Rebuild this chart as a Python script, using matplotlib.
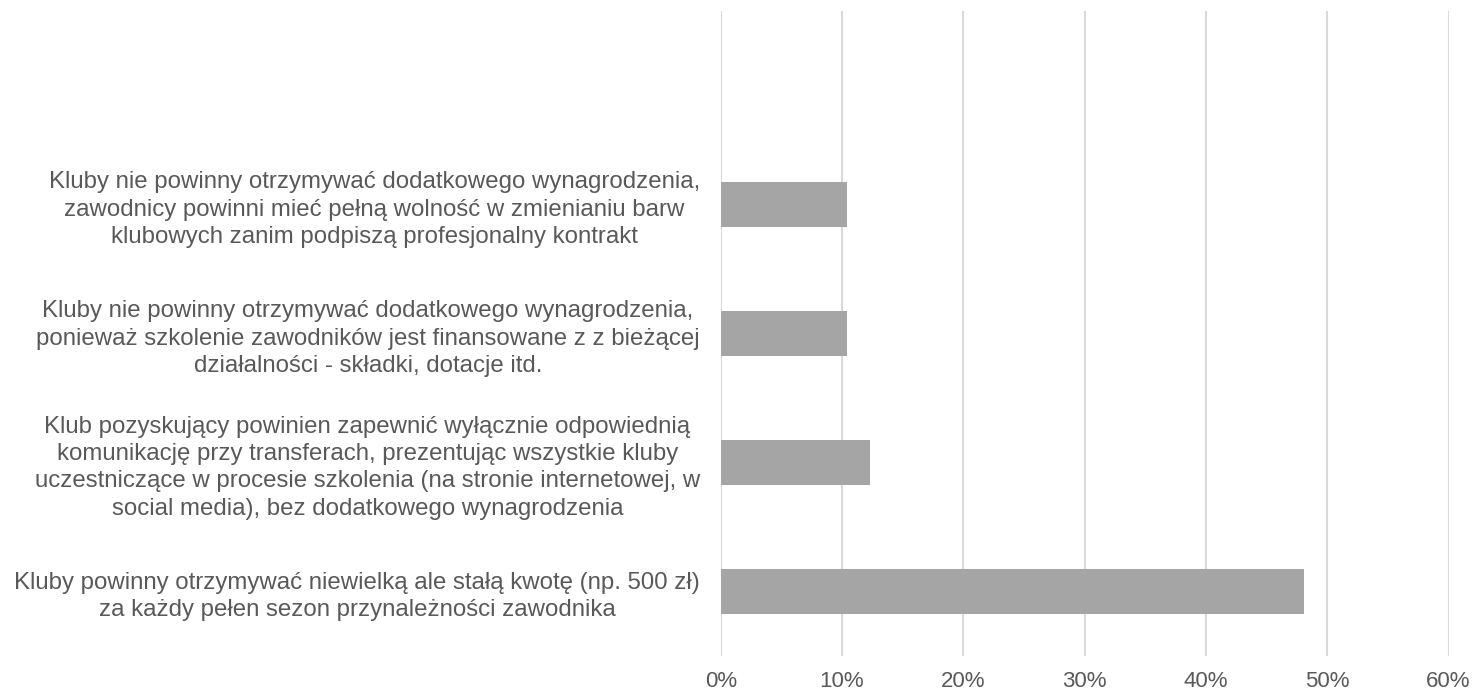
import matplotlib
matplotlib.use("Agg")
import matplotlib.pyplot as plt
from matplotlib.ticker import PercentFormatter

plt.rcParams["font.family"] = ["Liberation Sans", "DejaVu Sans"]

# categories from top to bottom (top slot is empty in the source chart)
labels = [
    "",
    "Kluby nie powinny otrzymywać dodatkowego wynagrodzenia,\n"
    "zawodnicy powinni mieć pełną wolność w zmienianiu barw\n"
    "klubowych zanim podpiszą profesjonalny kontrakt",
    "Kluby nie powinny otrzymywać dodatkowego wynagrodzenia,\n"
    "ponieważ szkolenie zawodników jest finansowane z z bieżącej\n"
    "działalności - składki, dotacje itd.",
    "Klub pozyskujący powinien zapewnić wyłącznie odpowiednią\n"
    "komunikację przy transferach, prezentując wszystkie kluby\n"
    "uczestniczące w procesie szkolenia (na stronie internetowej, w\n"
    "social media), bez dodatkowego wynagrodzenia",
    "Kluby powinny otrzymywać niewielką ale stałą kwotę (np. 500 zł)\n"
    "za każdy pełen sezon przynależności zawodnika",
]
values = [0.0, 10.4, 10.4, 12.3, 48.1]
xticks = [0, 10, 20, 30, 40, 50, 60]

fig = plt.figure(figsize=(14.73, 6.93), dpi=100)
ax = fig.add_axes([0.4893, 0.0534, 0.4941, 0.9307])

pos = list(range(len(labels)))[::-1]
ax.barh(pos, values, height=0.35, color="#a5a5a5", zorder=3)

ax.set_xlim(0, 60)
ax.set_ylim(-0.5, len(labels) - 0.5)
ax.set_xticks(xticks)
ax.xaxis.set_major_formatter(PercentFormatter(decimals=0))
ax.set_yticks(pos)
ax.set_yticklabels(labels, fontsize=17.3, color="#595959",
                   multialignment="center", linespacing=1.31)
ax.tick_params(axis="y", length=0, pad=15)
ax.tick_params(axis="x", length=0, pad=11, labelsize=16, labelcolor="#595959")

ax.grid(axis="x", color="#d9d9d9", linewidth=1.5, zorder=0)
for s in ax.spines.values():
    s.set_visible(False)

fig.savefig("out.png", dpi=100)
